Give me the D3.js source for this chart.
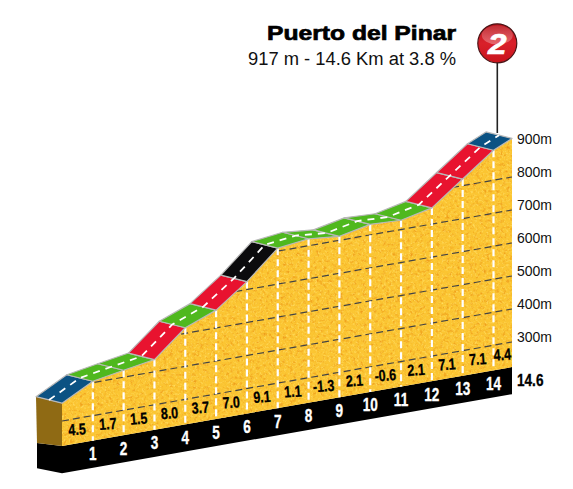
<!DOCTYPE html>
<html>
<head>
<meta charset="utf-8">
<script src="https://cdn.jsdelivr.net/npm/d3@7"></script>
<style>
  html, body { margin: 0; padding: 0; background: #fff; }
  svg { display: block; }
  text { font-family: "Liberation Sans", Arial, sans-serif; }
  .narrow { font-weight: 700; }
</style>
</head>
<body>
<div id="container"></div>
<script>
/* DATA */
const distances = [0, 1, 2, 3, 4, 5, 6, 7, 8, 9, 10, 11, 12, 13, 14, 14.6];
const elevations = [354, 404, 421, 437, 517, 554, 624, 709, 721, 712, 732, 728, 749, 820, 891, 917];
const gradients = ["4.5", "1.7", "1.5", "8.0", "3.7", "7.0", "9.1", "1.1", "-1.3", "2.1", "-0.6", "2.1", "7.1", "7.1", "4.4"];
const difficulty = ["blue", "green", "green", "red", "green", "red", "black", "green", "green", "green", "green", "green", "red", "red", "blue"];
const gridTicks = [300, 400, 500, 600, 700, 800];
const axisTicks = [300, 400, 500, 600, 700, 800, 900];
const kmLabels = [1, 2, 3, 4, 5, 6, 7, 8, 9, 10, 11, 12, 13, 14];
const climbName = "Puerto del Pinar";
const climbInfo = "917 m - 14.6 Km at 3.8 %";
const climbCategory = "2";

/* CONSTANTS */
const width = 573, height = 489;
const roadColor = { blue: "#0b5283", green: "#4fb81e", red: "#e8132f", black: "#0b0b0d" };
const floorElev = 224, baseElev = 142;
const roadDx = -26, roadDy = -6.5;

// SCALES
const xScale = d3.scaleLinear().domain([0, 14.6]).range([62, 512]);
const yScale = d3.scaleLinear().domain([300, 900]).range([342, 144]);
// the whole profile is sheared upward to the right
const skew = d3.scaleLinear().domain([0, 14.6]).range([79, 0]);

const px = km => xScale(km);
const py = (km, elev) => yScale(elev) + skew(km);
const profile = distances.map((km, i) => [px(km), py(km, elevations[i])]);
const line = d3.line();

const svg = d3.select("#container").append("svg")
  .attr("width", width)
  .attr("height", height);

// DEFS: paper grain for the yellow face, gradient for the badge
const defs = svg.append("defs");
function addGrain(id, seed, freq, rgb, gain, cut) {
  const f = defs.append("filter").attr("id", id)
    .attr("color-interpolation-filters", "sRGB")
    .attr("x", 0).attr("y", 0).attr("width", 1).attr("height", 1);
  f.append("feTurbulence")
    .attr("type", "fractalNoise").attr("baseFrequency", freq)
    .attr("numOctaves", 3).attr("seed", seed).attr("result", "n");
  f.append("feColorMatrix").attr("in", "n").attr("type", "matrix")
    .attr("values", `0 0 0 0 ${rgb[0]}  0 0 0 0 ${rgb[1]}  0 0 0 0 ${rgb[2]}  ${gain} 0 0 0 ${cut}`)
    .attr("result", "specks");
  f.append("feComposite").attr("in", "specks").attr("in2", "SourceAlpha").attr("operator", "in");
}
addGrain("grainDark", 7, 0.3, [0.93, 0.6, 0.1], 2.6, -1.35);
addGrain("grainLight", 21, 0.45, [1, 0.86, 0.38], 2.6, -1.3);

const ball = defs.append("linearGradient").attr("id", "ball")
  .attr("x1", 0).attr("y1", 0).attr("x2", 0).attr("y2", 1);
ball.append("stop").attr("offset", "0%").attr("stop-color", "#b8141c");
ball.append("stop").attr("offset", "50%").attr("stop-color", "#d9202a");
ball.append("stop").attr("offset", "100%").attr("stop-color", "#c9141c");
const gloss = defs.append("linearGradient").attr("id", "gloss")
  .attr("x1", 0).attr("y1", 0).attr("x2", 0).attr("y2", 1);
gloss.append("stop").attr("offset", "0%").attr("stop-color", "#fff").attr("stop-opacity", 0.1);
gloss.append("stop").attr("offset", "100%").attr("stop-color", "#fff").attr("stop-opacity", 0.32);

const facePoints = [
  ...profile,
  [px(14.6), py(14.6, floorElev)],
  [px(0), py(0, floorElev)]
];
defs.append("clipPath").attr("id", "faceClip")
  .append("path").attr("d", line(facePoints) + "Z");

// BASE
svg.append("path")
  .attr("fill", "#000")
  .attr("d", line([
    [px(0), py(0, floorElev)], [px(14.6), py(14.6, floorElev)],
    [px(14.6), py(14.6, baseElev)], [px(0), py(0, baseElev)]
  ]) + "Z");
svg.append("path")
  .attr("fill", "#000")
  .attr("d", line([
    [px(0) + roadDx + 1, py(0, floorElev) - 3], [px(0), py(0, floorElev)],
    [px(0), py(0, baseElev)], [px(0) + roadDx + 1, py(0, baseElev) - 5]
  ]) + "Z");
svg.append("path")
  .attr("fill", "#8f6a14")
  .attr("d", line([
    [profile[0][0] + roadDx, profile[0][1] + roadDy], profile[0],
    [px(0), py(0, floorElev)], [px(0) + roadDx + 1, py(0, floorElev) - 3]
  ]) + "Z");

// YELLOW FACE
svg.append("path").attr("fill", "#fbc532").attr("d", line(facePoints) + "Z");
svg.append("path").attr("fill", "#000").attr("filter", "url(#grainDark)").attr("d", line(facePoints) + "Z");
svg.append("path").attr("fill", "#000").attr("filter", "url(#grainLight)").attr("d", line(facePoints) + "Z");

// GRID
svg.append("g").attr("clip-path", "url(#faceClip)")
  .selectAll("path").data(gridTicks).join("path")
  .attr("fill", "none")
  .attr("stroke", "#444")
  .attr("stroke-width", 1.2)
  .attr("stroke-dasharray", "7 4")
  .attr("d", d => line([[px(0), py(0, d)], [px(14.6), py(14.6, d)]]));

// KM DROP LINES
svg.append("g").selectAll("line").data(kmLabels).join("line")
  .attr("x1", d => px(d))
  .attr("x2", d => px(d))
  .attr("y1", d => py(d, elevations[distances.indexOf(d)]))
  .attr("y2", d => py(d, floorElev))
  .attr("stroke", "#fff")
  .attr("stroke-width", 2.2)
  .attr("stroke-dasharray", "7 4");

// ROAD
svg.append("g").selectAll("path").data(difficulty).join("path")
  .attr("fill", d => roadColor[d])
  .attr("stroke", "#b8b8b8")
  .attr("stroke-width", 1.2)
  .attr("stroke-linejoin", "round")
  .attr("d", (d, i) => line([
    profile[i], profile[i + 1],
    [profile[i + 1][0] + roadDx, profile[i + 1][1] + roadDy],
    [profile[i][0] + roadDx, profile[i][1] + roadDy]
  ]) + "Z");

svg.append("path")
  .attr("fill", "none")
  .attr("stroke", "#fff")
  .attr("stroke-width", 1.8)
  .attr("stroke-dasharray", "7 6")
  .attr("d", line(profile.map(p => [p[0] + roadDx / 2, p[1] + roadDy / 2])));

// GRADIENT LABELS
const floorY = km => py(km, floorElev);
svg.append("g").selectAll("text").data(gradients).join("text")
  .attr("class", "narrow")
  .attr("font-size", 16)
  .attr("fill", "#000")
  .attr("stroke", "#000")
  .attr("stroke-width", 0.3)
  .attr("text-anchor", "middle")
  .attr("transform", (d, i) => {
    const mid = (distances[i] + distances[i + 1]) / 2;
    return `translate(${px(mid)},${floorY(mid) - 8.5}) rotate(-4) scale(0.78,1)`;
  })
  .text(d => d);

// KM LABELS
svg.append("g").selectAll("text").data(kmLabels).join("text")
  .attr("class", "narrow")
  .attr("font-size", 16)
  .attr("fill", "#fff")
  .attr("stroke", "#fff")
  .attr("stroke-width", 0.3)
  .attr("text-anchor", "middle")
  .attr("transform", d => `translate(${px(d)},${floorY(d) + 19.5}) scale(0.85,1.1)`)
  .text(d => d);

svg.append("text")
  .attr("class", "narrow")
  .attr("font-size", 16)
  .attr("stroke", "#000")
  .attr("stroke-width", 0.3)
  .attr("transform", "translate(517,386) scale(0.85,1.05)")
  .text("14.6");

// ELEVATION AXIS
const yAxis = d3.axisRight(yScale)
  .tickValues(axisTicks)
  .tickSize(0)
  .tickPadding(0)
  .tickFormat(d => d + "m");
const yAxisGroup = svg.append("g")
  .attr("transform", "translate(517,-5)")
  .call(yAxis);
yAxisGroup.select(".domain").remove();
yAxisGroup.selectAll("text")
  .attr("font-family", '"Liberation Sans", sans-serif')
  .attr("font-size", 14)
  .attr("fill", "#111");

// PIN
svg.append("line")
  .attr("x1", 497.3).attr("x2", 497.3)
  .attr("y1", 60).attr("y2", 133)
  .attr("stroke", "#222").attr("stroke-width", 1.6);
svg.append("circle")
  .attr("cx", 497.3).attr("cy", 43.3).attr("r", 19.5)
  .attr("fill", "url(#ball)").attr("stroke", "#4a1416").attr("stroke-width", 1.2);
svg.append("ellipse")
  .attr("cx", 497.3).attr("cy", 35).attr("rx", 15.5).attr("ry", 9.5)
  .attr("fill", "url(#gloss)");
svg.append("text")
  .attr("font-size", 29)
  .attr("font-weight", 700)
  .attr("font-style", "italic")
  .attr("fill", "#fff")
  .attr("stroke", "#fff")
  .attr("stroke-width", 0.7)
  .attr("text-anchor", "middle")
  .attr("transform", "translate(497.3,53.5) scale(1.15,1)")
  .text(climbCategory);

// TITLE
svg.append("text")
  .attr("x", 267).attr("y", 40)
  .attr("font-size", 21)
  .attr("font-weight", 700)
  .attr("fill", "#000")
  .attr("stroke", "#000")
  .attr("stroke-width", 0.7)
  .attr("textLength", 189)
  .attr("lengthAdjust", "spacingAndGlyphs")
  .text(climbName);
svg.append("text")
  .attr("x", 248).attr("y", 65)
  .attr("font-size", 18)
  .attr("fill", "#111")
  .attr("textLength", 208)
  .attr("lengthAdjust", "spacingAndGlyphs")
  .text(climbInfo);
</script>
</body>
</html>
